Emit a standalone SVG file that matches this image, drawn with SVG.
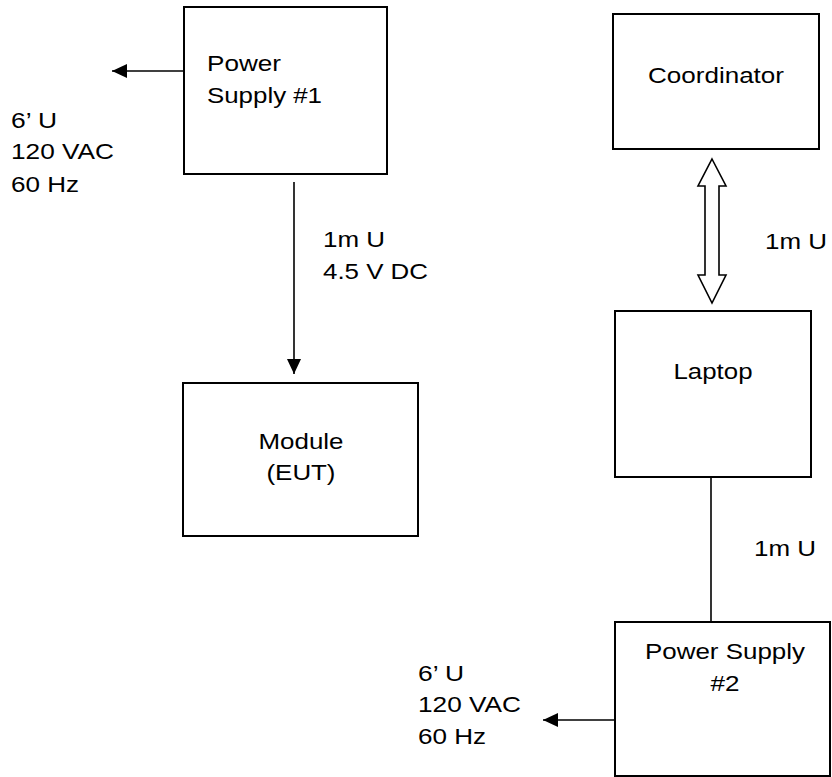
<svg xmlns="http://www.w3.org/2000/svg" width="832" height="777" viewBox="0 0 832 777">
<style>
.box{fill:#fff;stroke:#000;stroke-width:2}
.ln{fill:none;stroke:#000;stroke-width:1.6}
text{font-family:"Liberation Sans",Arial,sans-serif;font-size:22.5px;fill:#000}
.c{text-anchor:middle}
</style>
<defs>
<marker id="ah" viewBox="0 0 15 14" refX="15" refY="7" markerWidth="15" markerHeight="14" markerUnits="userSpaceOnUse" orient="auto">
<path d="M0,0 L15,7 L0,14 Z" fill="#000"/>
</marker>
</defs>
<rect width="832" height="777" fill="#fff"/>
<g id="connectors">
<line class="ln" x1="184" y1="71" x2="112" y2="71" marker-end="url(#ah)"/>
<line class="ln" x1="294" y1="182" x2="294" y2="374" marker-end="url(#ah)"/>
<path d="M712,159 L726,186 L719,186 L719,275 L726,275 L712,303 L698,275 L705,275 L705,186 L698,186 Z" fill="#fff" stroke="#000" stroke-width="1.6"/>
<line class="ln" x1="711" y1="477" x2="711" y2="622"/>
<line class="ln" x1="615" y1="720" x2="543" y2="720" marker-end="url(#ah)"/>
<text x="11" y="128" textLength="46" lengthAdjust="spacingAndGlyphs">6’ U</text>
<text x="11" y="159" textLength="103" lengthAdjust="spacingAndGlyphs">120 VAC</text>
<text x="11" y="192" textLength="68" lengthAdjust="spacingAndGlyphs">60 Hz</text>
<text x="323" y="247" textLength="62" lengthAdjust="spacingAndGlyphs">1m U</text>
<text x="323" y="279" textLength="105" lengthAdjust="spacingAndGlyphs">4.5 V DC</text>
<text x="765" y="249" textLength="62" lengthAdjust="spacingAndGlyphs">1m U</text>
<text x="754" y="556" textLength="62" lengthAdjust="spacingAndGlyphs">1m U</text>
<text x="418" y="681" textLength="46" lengthAdjust="spacingAndGlyphs">6’ U</text>
<text x="418" y="712" textLength="103" lengthAdjust="spacingAndGlyphs">120 VAC</text>
<text x="418" y="744" textLength="68" lengthAdjust="spacingAndGlyphs">60 Hz</text>
</g>
<g id="ps1">
<rect class="box" x="184" y="7" width="203" height="167"/>
<text x="207" y="71" textLength="74" lengthAdjust="spacingAndGlyphs">Power</text>
<text x="207" y="103" textLength="115" lengthAdjust="spacingAndGlyphs">Supply #1</text>
</g>
<g id="module">
<rect class="box" x="183" y="383" width="235" height="153"/>
<text class="c" x="301" y="449" textLength="85" lengthAdjust="spacingAndGlyphs">Module</text>
<text class="c" x="301" y="480" textLength="69" lengthAdjust="spacingAndGlyphs">(EUT)</text>
</g>
<g id="coordinator">
<rect class="box" x="613" y="14" width="206" height="135"/>
<text class="c" x="716" y="83" textLength="136" lengthAdjust="spacingAndGlyphs">Coordinator</text>
</g>
<g id="laptop">
<rect class="box" x="615" y="311" width="196" height="166"/>
<text class="c" x="713" y="379" textLength="79" lengthAdjust="spacingAndGlyphs">Laptop</text>
</g>
<g id="ps2">
<rect class="box" x="615" y="622" width="215" height="154"/>
<text class="c" x="725" y="659" textLength="160" lengthAdjust="spacingAndGlyphs">Power Supply</text>
<text class="c" x="725" y="691" textLength="29" lengthAdjust="spacingAndGlyphs">#2</text>
</g>
</svg>
